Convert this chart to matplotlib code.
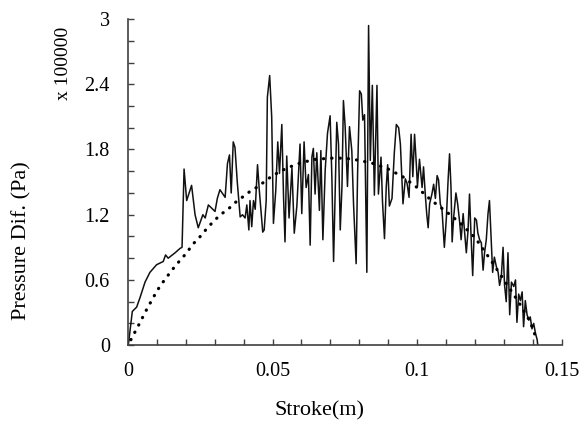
import numpy as np
import matplotlib
matplotlib.use('Agg')
import matplotlib.pyplot as plt
from matplotlib.ticker import MultipleLocator, FuncFormatter

plt.rcParams['font.family'] = ['Liberation Serif', 'DejaVu Serif']

# measured pressure difference (x 1e5 Pa) against stroke (m)
stroke_meas = [
    0.0000, 0.0003, 0.0015, 0.0030, 0.0042, 0.0059, 0.0076, 0.0099, 0.0122, 0.0130,
    0.0139, 0.0163, 0.0180, 0.0187, 0.0194, 0.0203, 0.0220, 0.0232, 0.0243, 0.0259,
    0.0267, 0.0278, 0.0301, 0.0309, 0.0318, 0.0336, 0.0344, 0.0351, 0.0357, 0.0364,
    0.0370, 0.0378, 0.0388, 0.0396, 0.0405, 0.0411, 0.0418, 0.0422, 0.0428, 0.0434,
    0.0440, 0.0448, 0.0454, 0.0466, 0.0471, 0.0478, 0.0482, 0.0490, 0.0497, 0.0503,
    0.0511, 0.0518, 0.0524, 0.0532, 0.0538, 0.0543, 0.0549, 0.0557, 0.0567, 0.0575,
    0.0584, 0.0595, 0.0601, 0.0609, 0.0616, 0.0624, 0.0630, 0.0636, 0.0641, 0.0647,
    0.0653, 0.0662, 0.0667, 0.0674, 0.0682, 0.0690, 0.0699, 0.0705, 0.0711, 0.0717,
    0.0722, 0.0728, 0.0734, 0.0740, 0.0745, 0.0751, 0.0759, 0.0766, 0.0774, 0.0780,
    0.0789, 0.0794, 0.0801, 0.0807, 0.0812, 0.0818, 0.0826, 0.0832, 0.0838, 0.0845,
    0.0852, 0.0861, 0.0866, 0.0875, 0.0880, 0.0887, 0.0893, 0.0898, 0.0904, 0.0913,
    0.0921, 0.0928, 0.0936, 0.0942, 0.0951, 0.0959, 0.0965, 0.0972, 0.0979, 0.0985,
    0.0991, 0.0997, 0.1001, 0.1008, 0.1017, 0.1022, 0.1028, 0.1033, 0.1038, 0.1043,
    0.1051, 0.1057, 0.1063, 0.1069, 0.1074, 0.1080, 0.1086, 0.1094, 0.1101, 0.1107,
    0.1112, 0.1117, 0.1121, 0.1126, 0.1134, 0.1140, 0.1147, 0.1152, 0.1159, 0.1164,
    0.1170, 0.1176, 0.1181, 0.1186, 0.1192, 0.1199, 0.1205, 0.1210, 0.1216, 0.1222,
    0.1228, 0.1233, 0.1239, 0.1245, 0.1250, 0.1255, 0.1261, 0.1267, 0.1274, 0.1280,
    0.1285, 0.1291, 0.1297, 0.1302, 0.1308, 0.1314, 0.1320, 0.1326, 0.1334, 0.1340,
    0.1345, 0.1351, 0.1357, 0.1363, 0.1368, 0.1374, 0.1380, 0.1386, 0.1391, 0.1397,
    0.1403, 0.1409, 0.1415, 0.1417,
]
pressure_meas = [
    0.00, 0.04, 0.31, 0.35, 0.44, 0.58, 0.67, 0.74, 0.77, 0.83,
    0.80, 0.85, 0.89, 0.90, 1.62, 1.33, 1.47, 1.20, 1.08, 1.20,
    1.17, 1.29, 1.23, 1.35, 1.43, 1.36, 1.67, 1.75, 1.40, 1.87,
    1.82, 1.50, 1.18, 1.20, 1.17, 1.29, 1.06, 1.33, 1.09, 1.33,
    1.25, 1.66, 1.43, 1.04, 1.06, 1.33, 2.28, 2.48, 2.10, 1.12,
    1.42, 1.87, 1.58, 2.03, 1.36, 0.95, 1.74, 1.17, 1.63, 1.03,
    1.28, 1.85, 1.21, 1.87, 1.45, 1.57, 0.92, 1.73, 1.81, 1.39,
    1.77, 1.24, 1.79, 0.97, 1.61, 1.95, 2.11, 1.55, 0.77, 1.47,
    2.05, 1.85, 1.06, 1.46, 2.25, 2.01, 1.46, 2.01, 1.79, 1.30,
    0.75, 1.58, 2.34, 2.31, 2.07, 2.12, 0.67, 2.94, 1.70, 2.39,
    1.38, 2.39, 1.39, 1.73, 1.33, 0.98, 1.45, 1.66, 1.28, 1.35,
    1.77, 2.03, 2.00, 1.85, 1.30, 1.53, 1.49, 1.36, 1.94, 1.55,
    1.94, 1.67, 1.46, 1.71, 1.45, 1.64, 1.39, 1.21, 1.08, 1.30,
    1.39, 1.48, 1.35, 1.56, 1.52, 1.30, 1.24, 0.90, 1.17, 1.52,
    1.76, 1.45, 0.95, 1.17, 1.40, 1.30, 1.13, 0.97, 1.21, 1.04,
    0.85, 1.06, 1.39, 1.03, 0.64, 1.17, 1.15, 1.03, 0.97, 0.94,
    0.69, 0.85, 0.97, 1.21, 1.33, 1.03, 0.67, 0.81, 0.72, 0.67,
    0.55, 0.63, 0.90, 0.56, 0.40, 0.85, 0.28, 0.58, 0.54, 0.60,
    0.21, 0.47, 0.41, 0.49, 0.17, 0.41, 0.28, 0.23, 0.26, 0.15,
    0.20, 0.11, 0.05, 0.00,
]

# model curve (dotted)
stroke_model = [
    0.001, 0.004, 0.0065, 0.009, 0.011, 0.0135, 0.0155, 0.018, 0.020, 0.0225,
    0.025, 0.0275, 0.030, 0.032, 0.035, 0.037, 0.040, 0.042, 0.045, 0.048,
    0.050, 0.055, 0.060, 0.065, 0.070, 0.075, 0.080, 0.085, 0.090, 0.095,
    0.100, 0.105, 0.110, 0.115, 0.120, 0.125, 0.130, 0.135, 0.139, 0.1415,
]
pressure_model = [
    0.05, 0.20, 0.33, 0.45, 0.54, 0.63, 0.70, 0.78, 0.84, 0.93,
    1.00, 1.08, 1.15, 1.20, 1.26, 1.31, 1.37, 1.41, 1.46, 1.52,
    1.56, 1.63, 1.68, 1.71, 1.72, 1.72, 1.70, 1.67, 1.62, 1.55,
    1.45, 1.33, 1.23, 1.12, 0.99, 0.80, 0.60, 0.40, 0.22, 0.04,
]

fig = plt.figure(figsize=(5.87, 4.23), dpi=100)
ax = fig.add_axes([0.218, 0.184, 0.739, 0.771])

ax.plot(stroke_meas, pressure_meas, color='#111111', lw=1.1)
ax.plot(stroke_model, pressure_model, color='black', lw=2.3,
        linestyle=(0, (0.1, 2.5)), dash_capstyle='round')

ax.set_xlim(0, 0.15)
ax.set_ylim(0, 3)

for s in ['top', 'right']:
    ax.spines[s].set_visible(False)
for s in ['left', 'bottom']:
    ax.spines[s].set_color('#404040')
    ax.spines[s].set_linewidth(1.2)

fmt = FuncFormatter(lambda v, p: '%g' % round(v, 4))
ax.xaxis.set_major_locator(MultipleLocator(0.05))
ax.xaxis.set_minor_locator(MultipleLocator(0.01))
ax.yaxis.set_major_locator(MultipleLocator(0.6))
ax.yaxis.set_minor_locator(MultipleLocator(0.2))
ax.xaxis.set_major_formatter(fmt)
ax.yaxis.set_major_formatter(fmt)

ax.tick_params(which='both', direction='in', length=4, width=1.0, color='#404040', labelsize=14.5)
ax.tick_params(axis='x', pad=12)
ax.tick_params(axis='y', pad=13)

ax.set_xlabel('Stroke(m)', fontsize=16)
ax.xaxis.set_label_coords(0.442, -0.172)
ax.set_ylabel('Pressure Dif. (Pa)', fontsize=16)
ax.yaxis.set_label_coords(-0.222, 0.32)
ax.text(-0.148, 0.865, 'x 100000', transform=ax.transAxes, rotation=90,
        fontsize=14, ha='center', va='center')

fig.savefig('out.png', dpi=100)
